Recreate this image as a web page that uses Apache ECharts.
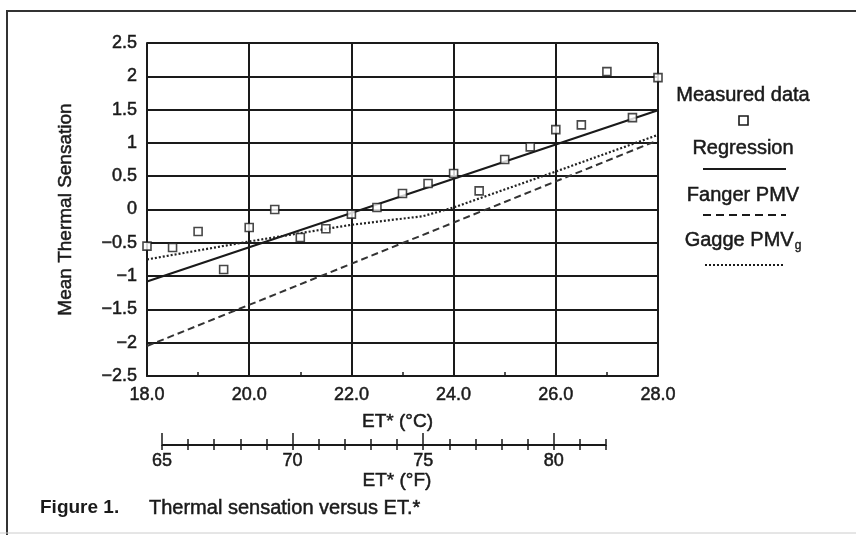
<!DOCTYPE html>
<html>
<head>
<meta charset="utf-8">
<title>Thermal sensation versus ET*</title>
<script src="https://cdn.jsdelivr.net/npm/echarts@6/dist/echarts.min.js"></script>
<style>
    html, body { margin: 0; padding: 0; background: #fff; }
    #chart { width: 856px; height: 535px; }
</style>
</head>
<body>
<div id="chart"></div>
<script>
// ET* in deg C, one measured point every 0.5
var etC = [18.0, 18.5, 19.0, 19.5, 20.0, 20.5, 21.0, 21.5, 22.0, 22.5, 23.0,
           23.5, 24.0, 24.5, 25.0, 25.5, 26.0, 26.5, 27.0, 27.5, 28.0];
var measured = [-0.55, -0.57, -0.33, -0.9, -0.27, 0.0, -0.42, -0.29, -0.07, 0.03, 0.24,
                0.39, 0.54, 0.28, 0.75, 0.94, 1.2, 1.27, 2.07, 1.38, 1.98];

// regression line
var regressionX = [18, 28];
var regressionY = [-1.08, 1.49];

// Fanger PMV
var fangerX = [18, 28];
var fangerY = [-2.05, 1.04];

// Gagge PMVg
var gaggeX = [18, 20, 22, 23.4, 24, 26, 28];
var gaggeY = [-0.75, -0.48, -0.23, -0.1, 0.03, 0.57, 1.12];

// deg F scale under the chart
var fTicks = [65, 70, 75, 80];

var FONT = 'Liberation Sans';
var INK = '#1a1a1a';

// the scan makes all the text look heavy, a thin outline gets close to it
function txt(extra) {
    var s = { fontFamily: FONT, color: INK, textBorderColor: INK, textBorderWidth: 0.5 };
    for (var k in extra) s[k] = extra[k];
    return s;
}

function pairs(xs, ys) {
    var out = [];
    for (var i = 0; i < xs.length; i++) {
        out.push([xs[i], ys[i]]);
    }
    return out;
}

function legendText(t, y) {
    return {
        type: 'text', x: 743, y: y,
        style: {
            text: t, font: '20px "' + FONT + '"', fill: INK, align: 'center', verticalAlign: 'middle',
            stroke: INK, lineWidth: 0.5
        }
    };
}

function legendLine(y, dash, x1, x2) {
    return {
        type: 'line',
        shape: { x1: x1 || 703, y1: y, x2: x2 || 786, y2: y },
        style: { stroke: INK, lineWidth: 2, lineDash: dash || null }
    };
}

var myChart = echarts.init(document.getElementById('chart'));

var option = {
    backgroundColor: '#fff',
    animation: false,
    grid: [
        { left: 147, top: 43, width: 511, height: 333, outerBoundsMode: 'none' },
        { left: 162, top: 444, width: 444, height: 1, outerBoundsMode: 'none' }
    ],
    xAxis: [
        {
            gridIndex: 0, type: 'value', min: 18, max: 28, interval: 2,
            name: 'ET* (°C)', nameLocation: 'middle', nameGap: 36,
            nameTextStyle: txt({ fontSize: 19, padding: [0, 0, 0, -10] }),
            axisLine: { show: true, onZero: false, lineStyle: { color: INK, width: 2 } },
            axisTick: { show: true, inside: true, length: 4, lineStyle: { color: INK, width: 1.5 } },
            minorTick: { show: true, splitNumber: 2, length: 4, lineStyle: { color: INK, width: 1.5 } },
            axisLabel: txt({
                margin: 10, fontSize: 18,
                formatter: function(v) { return v.toFixed(1); }
            }),
            splitLine: { show: true, showMinLine: true, showMaxLine: true, lineStyle: { color: INK, width: 2 } }
        },
        // deg F scale, bottom ticks and labels
        {
            gridIndex: 1, type: 'value', min: 65, max: 82, interval: 1, position: 'bottom',
            name: 'ET* (°F)', nameLocation: 'middle', nameGap: 24,
            nameTextStyle: txt({ fontSize: 19, padding: [0, 0, 0, 26] }),
            axisLine: { show: true, onZero: false, lineStyle: { color: INK, width: 2 } },
            axisTick: { show: true, length: 5, lineStyle: { color: INK, width: 1.5 } },
            axisLabel: txt({ margin: 7, fontSize: 18, customValues: fTicks }),
            splitLine: { show: false }
        },
        // deg F scale, upper half of the ticks
        {
            gridIndex: 1, type: 'value', min: 65, max: 82, interval: 1, position: 'top',
            axisLine: { show: false, onZero: false },
            axisTick: { show: true, length: 5, lineStyle: { color: INK, width: 1.5 } },
            axisLabel: { show: false },
            splitLine: { show: false }
        },
        // longer ticks at the labelled values
        {
            gridIndex: 1, type: 'value', min: 65, max: 82, interval: 1, position: 'top',
            axisLine: { show: false, onZero: false },
            axisTick: { show: true, length: 11, customValues: fTicks, lineStyle: { color: INK, width: 1.5 } },
            axisLabel: { show: false },
            splitLine: { show: false }
        }
    ],
    yAxis: [
        {
            gridIndex: 0, type: 'value', min: -2.5, max: 2.5, interval: 0.5,
            name: 'Mean Thermal Sensation', nameLocation: 'middle', nameGap: 72,
            nameTextStyle: txt({ fontSize: 19 }),
            axisLine: { show: true, onZero: false, lineStyle: { color: INK, width: 2 } },
            axisTick: { show: false },
            axisLabel: txt({
                margin: 10, fontSize: 18,
                formatter: function(v) { return (v < 0 ? '\u2212' : '') + Math.abs(v); }
            }),
            splitLine: { show: true, showMinLine: true, showMaxLine: true, lineStyle: { color: INK, width: 2 } }
        },
        { gridIndex: 1, type: 'value', min: 0, max: 1, show: false }
    ],
    series: [
        {
            name: 'Regression', type: 'line', xAxisIndex: 0, yAxisIndex: 0,
            data: pairs(regressionX, regressionY),
            showSymbol: false, symbol: 'none',
            lineStyle: { color: INK, width: 2.2 }, z: 3
        },
        {
            name: 'Fanger PMV', type: 'line', xAxisIndex: 0, yAxisIndex: 0,
            data: pairs(fangerX, fangerY),
            showSymbol: false, symbol: 'none',
            lineStyle: { color: '#333', width: 2, type: [7, 4] }, z: 3
        },
        {
            name: 'Gagge PMVg', type: 'line', xAxisIndex: 0, yAxisIndex: 0,
            data: pairs(gaggeX, gaggeY),
            showSymbol: false, symbol: 'none',
            lineStyle: { color: '#222', width: 2.2, type: [2, 2] }, z: 3
        },
        {
            name: 'Measured data', type: 'scatter', xAxisIndex: 0, yAxisIndex: 0,
            data: pairs(etC, measured),
            symbol: 'rect', symbolSize: 8,
            itemStyle: { color: '#fff', borderColor: INK, borderWidth: 1.6 }, z: 4
        }
    ],
    graphic: [
        // figure frame (runs off the right and bottom edges)
        {
            type: 'polyline',
            shape: { points: [[7, 540], [7, 11], [860, 11]] },
            style: { stroke: '#333', lineWidth: 2, fill: null }
        },
        {
            type: 'line',
            shape: { x1: 0, y1: 533, x2: 856, y2: 533 },
            style: { stroke: '#ccc', lineWidth: 1 }
        },
        // legend
        legendText('Measured data', 95),
        {
            type: 'rect',
            shape: { x: 739, y: 116, width: 9, height: 9 },
            style: { fill: '#fff', stroke: INK, lineWidth: 1.6 }
        },
        legendText('Regression', 148),
        legendLine(169),
        legendText('Fanger PMV', 195),
        legendLine(215, [8, 5]),
        {
            type: 'text', x: 743, y: 240,
            style: {
                text: '{a|Gagge PMV}{b|g}', align: 'center', verticalAlign: 'middle',
                rich: {
                    a: { fontFamily: FONT, fontSize: 20, fill: INK, stroke: INK, lineWidth: 0.5 },
                    b: { fontFamily: FONT, fontSize: 12, fill: INK, stroke: INK, lineWidth: 0.4, padding: [12, 0, 0, 1] }
                }
            }
        },
        legendLine(265, [2, 2], 705, 783),
        // caption
        {
            type: 'text', x: 40, y: 508,
            style: { text: 'Figure 1.', font: 'bold 19px "' + FONT + '"', fill: INK, verticalAlign: 'middle' }
        },
        {
            type: 'text', x: 149, y: 508,
            style: {
                text: 'Thermal sensation versus ET.*', font: '20px "' + FONT + '"', fill: INK, verticalAlign: 'middle',
                stroke: INK, lineWidth: 0.5
            }
        }
    ]
};

myChart.setOption(option);
</script>
</body>
</html>
